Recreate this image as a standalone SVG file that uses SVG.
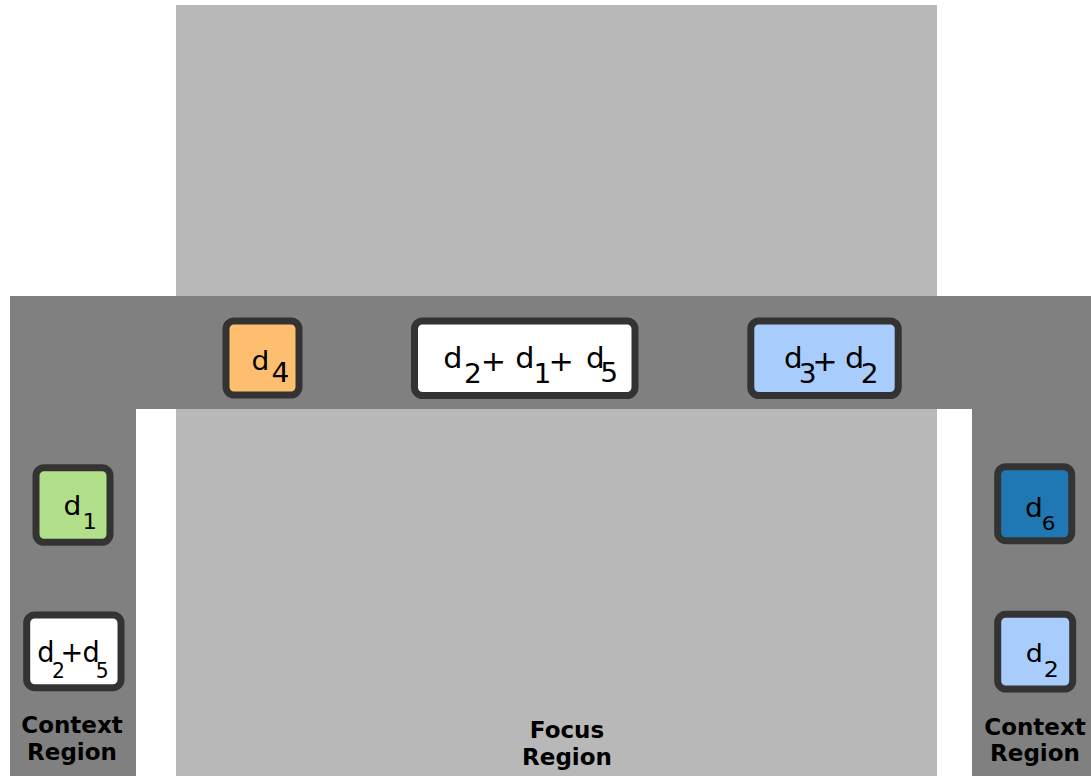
<svg xmlns="http://www.w3.org/2000/svg" width="1091" height="776" viewBox="0 0 1091 776">
<style>
.node{stroke:#333333;stroke-width:7}
.t{font-family:"DejaVu Sans",sans-serif;fill:#000}
.lbl{font-family:"DejaVu Sans",sans-serif;font-weight:bold;font-size:23px;fill:#000;text-anchor:middle}
</style>
<rect width="1091" height="776" fill="#ffffff"/>
<g id="focus-region">
<rect x="176" y="5" width="761" height="771" fill="#b8b8b8"/>
<text class="lbl" x="567" y="738">Focus</text>
<text class="lbl" x="567" y="765">Region</text>
</g>
<g id="context-band">
<path d="M10,296 H1091 V776 H972 V409 H136 V776 H10 Z" fill="#808080"/>
<text class="lbl" x="72" y="733">Context</text>
<text class="lbl" x="72" y="760">Region</text>
<text class="lbl" x="1035" y="735">Context</text>
<text class="lbl" x="1035" y="761">Region</text>
</g>
<g id="connectors"></g>
<g id="node-d4">
<rect class="node" x="226" y="321" width="73" height="74" rx="8" fill="#fdbf6f"/>
<text class="t" font-size="26" transform="translate(253,370) scale(1.08,1)" x="-1.5">d</text>
<text class="t" font-size="26" transform="translate(273,382) scale(1.08,1)" x="-1.3">4</text>
</g>
<g id="node-d2d1d5">
<rect class="node" x="414.5" y="321" width="220.5" height="74.5" rx="8" fill="#ffffff"/>
<text class="t" font-size="28" transform="translate(445,367.5) scale(1.08,1)" x="-1.6">d</text>
<text class="t" font-size="26" transform="translate(466.7,382.5) scale(1.08,1)" x="-2.5">2</text>
<text class="t" font-size="28" transform="translate(484,371) scale(1.08,1)" x="-3">+</text>
<text class="t" font-size="28" transform="translate(517,367.5) scale(1.08,1)" x="-1.6">d</text>
<text class="t" font-size="26" transform="translate(536.7,382.5) scale(1.08,1)" x="-2.9">1</text>
<text class="t" font-size="28" transform="translate(551.7,371) scale(1.08,1)" x="-3">+</text>
<text class="t" font-size="28" transform="translate(587.7,367.5) scale(1.05,1)" x="-1.6">d</text>
<text class="t" font-size="26" transform="translate(603,382) scale(1.08,1)" x="-2.5">5</text>
</g>
<g id="node-d3d2">
<rect class="node" x="750.8" y="321" width="147.4" height="74.5" rx="8" fill="#a8cdfd"/>
<text class="t" font-size="28" transform="translate(785.7,367.5) scale(1.05,1)" x="-1.6">d</text>
<text class="t" font-size="26" transform="translate(801.5,382.5) scale(1.08,1)" x="-2.5">3</text>
<text class="t" font-size="28" transform="translate(815.5,371) scale(1.08,1)" x="-3">+</text>
<text class="t" font-size="28" transform="translate(846.7,367.5) scale(1.08,1)" x="-1.6">d</text>
<text class="t" font-size="26" transform="translate(863.5,382.5) scale(1.08,1)" x="-2.5">2</text>
</g>
<g id="node-d1">
<rect class="node" x="36" y="467.7" width="74" height="74.6" rx="8" fill="#b2df8a"/>
<text class="t" font-size="26" transform="translate(65,515) scale(1.08,1)" x="-1.5">d</text>
<text class="t" font-size="21" transform="translate(85,529) scale(1.08,1)" x="-2.3">1</text>
</g>
<g id="node-d2d5">
<rect class="node" x="26.7" y="615" width="94.3" height="72.7" rx="8" fill="#ffffff"/>
<text class="t" font-size="28" transform="translate(38.7,661.7) scale(0.97,1)" x="-1.6">d</text>
<text class="t" font-size="21" transform="translate(54,678) scale(0.97,1)" x="-2">2</text>
<text class="t" font-size="28" transform="translate(63.3,662) scale(0.97,1)" x="-3">+</text>
<text class="t" font-size="28" transform="translate(84,661.7) scale(0.97,1)" x="-1.6">d</text>
<text class="t" font-size="21" transform="translate(97.8,678) scale(0.97,1)" x="-2">5</text>
</g>
<g id="node-d6">
<rect class="node" x="997.7" y="466.7" width="74" height="74" rx="8" fill="#1f78b4"/>
<text class="t" font-size="26" transform="translate(1026.7,516.7) scale(1.08,1)" x="-1.5">d</text>
<text class="t" font-size="20" transform="translate(1043.8,530) scale(1.08,1)" x="-2">6</text>
</g>
<g id="node-d2r">
<rect class="node" x="997.7" y="614.3" width="75" height="74.7" rx="8" fill="#a8cdfd"/>
<text class="t" font-size="25" transform="translate(1027.3,662) scale(1.08,1)" x="-1.4">d</text>
<text class="t" font-size="22" transform="translate(1046,677) scale(1.08,1)" x="-2.2">2</text>
</g>
</svg>
